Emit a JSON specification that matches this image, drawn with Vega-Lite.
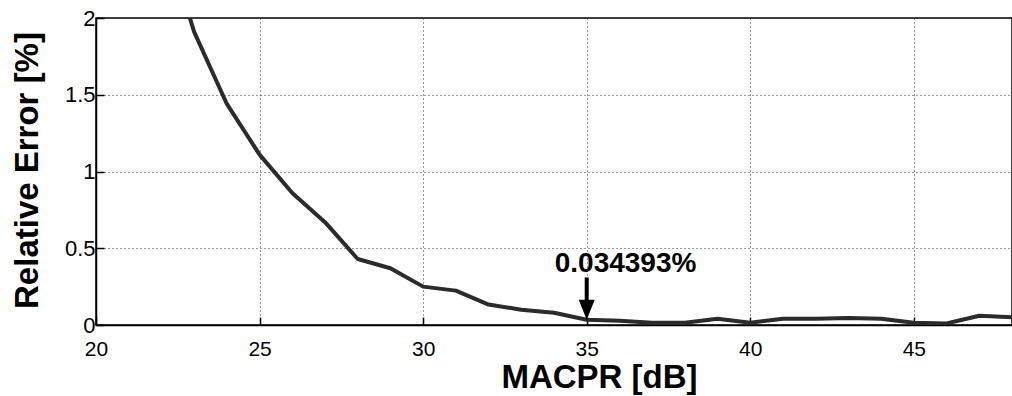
{
  "$schema": "https://vega.github.io/schema/vega-lite/v6.json",
  "autosize": {"type": "none"},
  "padding": {"left": 96, "top": 18, "right": 0, "bottom": 71},
  "width": 916,
  "height": 307,
  "background": "white",
  "config": {
    "view": {"stroke": "black", "strokeWidth": 1.5},
    "font": "Liberation Sans",
    "axis": {
      "labelFont": "Liberation Sans",
      "labelFontSize": 22,
      "labelColor": "black",
      "titleFont": "Liberation Sans",
      "titleFontSize": 33,
      "titleFontWeight": "bold",
      "titleColor": "black",
      "domainColor": "black",
      "domainWidth": 1.5,
      "tickColor": "black",
      "tickWidth": 1.5,
      "grid": true,
      "gridColor": "#333",
      "gridDash": [1, 3],
      "gridWidth": 1,
      "gridOpacity": 1
    }
  },
  "datasets": {
    "curve": [
      {"MACPR": 22, "err": 2.6},
      {"MACPR": 23, "err": 1.91},
      {"MACPR": 24, "err": 1.44},
      {"MACPR": 25, "err": 1.11},
      {"MACPR": 26, "err": 0.86},
      {"MACPR": 27, "err": 0.67},
      {"MACPR": 28, "err": 0.43},
      {"MACPR": 29, "err": 0.37},
      {"MACPR": 30, "err": 0.25},
      {"MACPR": 31, "err": 0.224},
      {"MACPR": 32, "err": 0.133},
      {"MACPR": 33, "err": 0.1},
      {"MACPR": 34, "err": 0.08},
      {"MACPR": 35, "err": 0.034},
      {"MACPR": 36, "err": 0.028},
      {"MACPR": 37, "err": 0.015},
      {"MACPR": 38, "err": 0.015},
      {"MACPR": 39, "err": 0.04},
      {"MACPR": 40, "err": 0.015},
      {"MACPR": 41, "err": 0.04},
      {"MACPR": 42, "err": 0.04},
      {"MACPR": 43, "err": 0.045},
      {"MACPR": 44, "err": 0.04},
      {"MACPR": 45, "err": 0.015},
      {"MACPR": 46, "err": 0.01},
      {"MACPR": 47, "err": 0.06},
      {"MACPR": 48, "err": 0.05}
    ],
    "arrow": [
      {"MACPR": 35, "top": 0.31, "bottom": 0.16, "head": 0.1, "label": "0.034393%"}
    ]
  },
  "layer": [
    {
      "data": {"name": "curve"},
      "mark": {"type": "line", "color": "#2b2b2b", "strokeWidth": 4, "clip": true, "strokeJoin": "round"},
      "encoding": {
        "x": {
          "field": "MACPR", "type": "quantitative",
          "scale": {"domain": [20, 48], "nice": false, "zero": false},
          "axis": {
            "title": "MACPR [dB]",
            "values": [20, 25, 30, 35, 40, 45],
            "tickSize": -8,
            "labelPadding": 21,
            "labelFontSize": 21,
            "labelFlush": false,
            "titleX": 503,
            "titleY": 62,
            "titleBaseline": "alphabetic",
            "titleAnchor": null
          }
        },
        "y": {
          "field": "err", "type": "quantitative",
          "scale": {"domain": [0, 2], "nice": false},
          "axis": {
            "title": "Relative Error [%]",
            "values": [0, 0.5, 1, 1.5, 2],
            "format": "~g",
            "tickSize": -8,
            "labelPadding": 9,
            "labelFlush": false,
            "titleX": -59,
            "titleY": 152,
            "titleBaseline": "alphabetic",
            "titleAnchor": null
          }
        }
      }
    },
    {
      "data": {"name": "arrow"},
      "mark": {"type": "rule", "color": "black", "strokeWidth": 4},
      "encoding": {
        "x": {"field": "MACPR", "type": "quantitative"},
        "y": {"field": "top", "type": "quantitative"},
        "y2": {"field": "bottom"}
      }
    },
    {
      "data": {"name": "arrow"},
      "mark": {"type": "point", "shape": "M-1,-1.25L1,-1.25L0,1.25Z", "size": 256, "filled": true, "color": "black", "opacity": 1},
      "encoding": {
        "x": {"field": "MACPR", "type": "quantitative"},
        "y": {"field": "head", "type": "quantitative"}
      }
    },
    {
      "data": {"name": "arrow"},
      "mark": {"type": "text", "font": "Liberation Sans", "fontSize": 28, "fontWeight": "bold", "color": "black", "align": "left", "baseline": "alphabetic", "dx": -32, "dy": -5},
      "encoding": {
        "x": {"field": "MACPR", "type": "quantitative"},
        "y": {"field": "top", "type": "quantitative"},
        "text": {"field": "label"}
      }
    }
  ]
}
